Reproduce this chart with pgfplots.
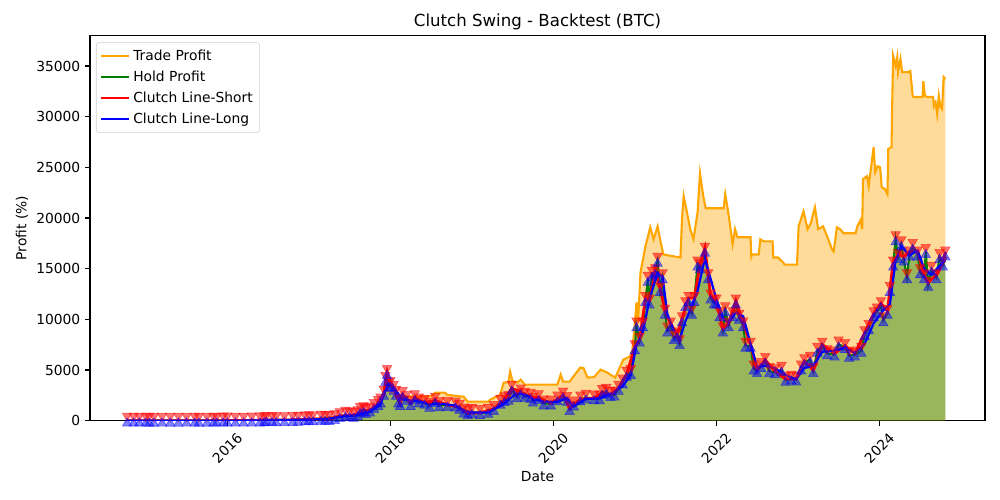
\documentclass[border=0pt]{standalone}
\usepackage{fontspec}
\setmainfont{DejaVu Sans}
\usepackage{pgfplots}
\usepackage{pgfplotstable}
\pgfplotsset{compat=1.18}
\definecolor{mplorange}{RGB}{255,165,0}
\definecolor{mplgreen}{RGB}{0,128,0}
\definecolor{lgray}{RGB}{204,204,204}

\pgfplotstableread{
x y
2014.77 3
2014.85 5
2014.92 4
2015.00 2
2015.04 1
2015.10 1
2015.20 2
2015.30 1
2015.40 1
2015.50 2
2015.60 3
2015.65 1
2015.75 1
2015.83 3
2015.87 5
2015.95 10
2016.00 8
2016.10 4
2016.20 5
2016.30 8
2016.40 13
2016.45 33
2016.48 75
2016.55 65
2016.60 45
2016.70 51
2016.80 75
2016.87 85
2016.95 125
2017.00 150
2017.05 125
2017.15 187
2017.20 175
2017.25 162
2017.32 250
2017.38 450
2017.45 575
2017.50 525
2017.55 475
2017.60 625
2017.63 950
2017.67 1025
2017.70 850
2017.75 1000
2017.80 1350
2017.85 1650
2017.88 1900
2017.92 2650
2017.94 4025
2017.96 4700
2017.98 3400
2018.00 3525
2018.04 3150
2018.07 2650
2018.10 1900
2018.12 1650
2018.15 2525
2018.20 2150
2018.25 1650
2018.30 2225
2018.35 1900
2018.42 1775
2018.48 1475
2018.55 1950
2018.60 1525
2018.70 1550
2018.80 1500
2018.85 1275
2018.90 900
2018.95 725
2019.00 850
2019.10 762
2019.20 875
2019.27 1150
2019.35 1775
2019.40 2025
2019.45 2150
2019.49 3150
2019.55 2400
2019.60 2775
2019.65 2450
2019.72 2350
2019.75 1975
2019.82 2225
2019.88 1700
2019.97 1700
2020.05 2100
2020.12 2475
2020.17 2050
2020.20 1150
2020.25 1600
2020.33 2100
2020.40 2275
2020.50 2200
2020.57 2200
2020.60 2725
2020.65 2850
2020.70 2525
2020.75 2575
2020.80 3150
2020.85 3775
2020.90 4525
2020.95 4700
2021.00 7150
2021.02 9400
2021.06 7900
2021.10 9400
2021.13 11900
2021.16 13900
2021.18 11650
2021.21 14400
2021.25 14650
2021.28 15775
2021.31 12900
2021.34 14150
2021.37 10650
2021.40 8900
2021.44 9400
2021.48 8150
2021.52 8400
2021.55 7650
2021.58 9900
2021.62 11400
2021.66 11900
2021.70 10650
2021.73 11900
2021.77 15400
2021.80 15150
2021.86 16775
2021.90 14150
2021.93 12150
2021.97 11650
2022.00 11650
2022.04 10400
2022.08 8900
2022.11 10900
2022.15 9400
2022.20 10400
2022.24 11650
2022.28 10150
2022.33 9400
2022.36 7400
2022.42 7400
2022.46 5150
2022.50 4900
2022.55 5400
2022.60 5900
2022.65 4900
2022.72 4775
2022.80 5025
2022.85 4025
2022.92 4150
2022.98 4050
2023.04 5150
2023.08 5775
2023.15 6025
2023.19 4900
2023.24 6900
2023.30 7400
2023.36 6650
2023.45 6525
2023.50 7525
2023.58 7275
2023.63 6400
2023.70 6525
2023.78 6900
2023.82 8525
2023.87 9150
2023.93 10400
2023.97 10775
2024.02 11400
2024.05 9900
2024.10 10650
2024.13 12900
2024.17 15400
2024.20 17900
2024.23 16150
2024.27 17400
2024.30 15900
2024.34 14150
2024.37 16400
2024.41 17150
2024.47 16400
2024.50 14650
2024.55 14150
2024.57 16650
2024.60 13400
2024.64 14900
2024.70 14150
2024.74 16150
2024.78 15400
2024.81 16400
}\holdtable

\pgfplotstableread{
x y
2014.77 0
2015.00 1
2015.30 1
2015.87 2
2016.48 60
2017.00 140
2017.38 420
2017.60 580
2017.75 950
2017.88 1800
2017.92 2500
2017.94 3600
2017.96 4050
2017.98 2870
2018.00 2800
2018.10 2500
2018.20 2400
2018.37 2370
2018.50 2400
2018.55 2770
2018.67 2770
2018.70 2550
2018.90 2370
2018.95 1880
2019.20 1880
2019.23 2100
2019.35 2570
2019.39 3760
2019.45 3800
2019.47 4850
2019.50 3900
2019.56 3760
2019.60 4050
2019.65 3560
2020.05 3560
2020.09 4550
2020.12 3860
2020.20 3860
2020.33 5240
2020.37 5200
2020.42 4250
2020.50 4300
2020.58 5040
2020.65 4800
2020.76 4250
2020.86 6030
2020.94 6330
2020.97 7000
2021.00 9500
2021.02 11670
2021.04 9800
2021.07 14630
2021.13 17200
2021.19 19080
2021.23 17900
2021.28 19180
2021.31 17900
2021.35 16400
2021.56 16100
2021.58 20070
2021.60 22150
2021.64 20560
2021.68 18900
2021.72 17900
2021.77 20560
2021.80 24400
2021.84 22150
2021.87 20960
2022.09 20960
2022.11 22350
2022.15 20370
2022.20 17400
2022.23 18900
2022.26 18100
2022.42 18100
2022.43 16200
2022.44 16400
2022.52 16400
2022.54 17900
2022.58 17700
2022.69 17700
2022.70 16100
2022.76 16100
2022.82 15600
2022.84 15400
2022.99 15400
2023.01 19180
2023.07 20660
2023.12 18900
2023.16 19500
2023.21 21060
2023.25 18900
2023.31 19180
2023.36 18200
2023.42 16900
2023.44 16700
2023.48 19080
2023.52 18900
2023.56 18500
2023.71 18500
2023.73 19180
2023.77 19800
2023.79 18900
2023.80 23830
2023.85 24130
2023.87 23140
2023.93 27000
2023.95 24520
2023.98 25110
2024.01 25010
2024.03 23040
2024.07 22840
2024.10 22350
2024.11 26800
2024.15 27000
2024.16 32040
2024.17 36000
2024.20 35000
2024.22 35890
2024.23 34400
2024.26 35700
2024.28 34400
2024.36 34400
2024.38 34500
2024.41 32040
2024.42 31940
2024.53 31940
2024.54 33500
2024.56 32040
2024.59 31940
2024.66 31940
2024.67 31050
2024.69 31400
2024.71 30250
2024.73 32040
2024.75 30950
2024.77 30750
2024.79 33900
2024.81 33700
}\tradetable

\pgfplotstableread{
x y
2014.77 3
2015.00 2
2015.30 1
2015.60 3
2015.87 5
2016.20 10
2016.48 80
2016.80 80
2017.00 155
2017.25 170
2017.38 460
2017.50 540
2017.60 640
2017.67 1040
2017.75 1020
2017.85 1680
2017.92 2700
2017.96 4750
2018.00 3600
2018.07 2700
2018.12 1700
2018.15 2570
2018.25 1700
2018.30 2260
2018.42 1800
2018.55 1980
2018.70 1580
2018.85 1300
2018.95 740
2019.10 780
2019.27 1170
2019.40 2060
2019.49 3200
2019.60 2820
2019.72 2380
2019.82 2260
2019.97 1730
2020.05 2140
2020.12 2510
2020.20 1170
2020.33 2130
2020.50 2230
2020.60 2770
2020.70 2560
2020.80 3200
2020.90 4600
2021.00 7270
2021.06 8020
2021.13 12100
2021.18 11850
2021.25 14900
2021.31 13100
2021.37 10830
2021.44 9560
2021.52 8540
2021.58 10070
2021.66 12100
2021.73 12100
2021.80 15400
2021.86 17050
2021.93 12350
2022.00 11850
2022.08 9050
2022.15 9560
2022.24 11850
2022.33 9560
2022.42 7520
2022.50 4980
2022.60 6000
2022.72 4860
2022.85 4100
2022.98 4120
2023.08 5870
2023.19 4980
2023.30 7520
2023.45 6630
2023.58 7400
2023.70 6630
2023.82 8670
2023.93 10570
2024.02 11590
2024.10 10830
2024.17 15660
2024.23 16420
2024.30 16170
2024.37 16670
2024.47 16670
2024.55 14390
2024.60 13620
2024.70 14390
2024.78 15660
2024.81 16670
}\redtable

\pgfplotstableread{
x y
2014.77 3
2015.10 1
2015.50 1
2015.83 2
2016.10 4
2016.45 20
2016.60 55
2016.95 100
2017.20 165
2017.45 450
2017.60 560
2017.75 900
2017.88 1600
2017.96 3500
2018.00 3900
2018.07 3000
2018.15 2100
2018.25 2000
2018.35 1950
2018.48 1600
2018.60 1700
2018.80 1500
2018.90 1050
2019.00 800
2019.20 820
2019.35 1450
2019.45 2050
2019.55 2700
2019.65 2600
2019.75 2150
2019.88 1900
2020.05 1850
2020.17 2250
2020.25 1400
2020.40 2150
2020.57 2200
2020.70 2650
2020.85 3400
2020.95 4500
2021.02 7500
2021.10 8800
2021.18 12000
2021.28 14600
2021.34 14200
2021.40 10500
2021.48 8900
2021.55 8000
2021.62 9800
2021.70 11300
2021.77 12800
2021.86 16000
2021.93 14000
2022.00 12000
2022.08 10200
2022.15 9600
2022.24 10700
2022.33 10300
2022.42 7600
2022.50 5300
2022.60 5400
2022.72 5200
2022.85 4500
2022.98 4100
2023.08 5200
2023.19 5400
2023.30 6800
2023.45 6900
2023.58 7200
2023.70 6700
2023.82 7600
2023.93 9600
2024.05 10900
2024.13 11500
2024.20 15800
2024.27 17200
2024.37 16300
2024.47 16800
2024.55 15000
2024.64 14400
2024.74 15300
2024.81 15800
}\bluetable

\begin{document}
\begin{tikzpicture}
\begin{axis}[
  name=ax,
  scale only axis,
  width=8.95in, height=3.852in,
  xmin=2014.315, xmax=2025.297,
  ymin=0, ymax=38010,
  axis line style={black, line width=0.8pt},
  tick align=outside,
  major tick length=3.5pt,
  tick style={black, line width=0.8pt},
  xtick={2016,2018,2020,2022,2024},
  xticklabels={2016,2018,2020,2022,2024},
  xticklabel style={yshift=-0.225in, rotate=45, anchor=center},
  ytick={0,5000,10000,15000,20000,25000,30000,35000},
  scaled y ticks=false,
  yticklabel style={/pgf/number format/fixed, /pgf/number format/1000 sep={}},
  /pgf/number format/assume math mode=true,
  xtick pos=bottom, ytick pos=left,
  title={\fontsize{12}{14}\selectfont Clutch Swing - Backtest (BTC)},
  title style={at={(axis description cs:0.5,1)}, anchor=south, yshift=-5.5pt},
  xlabel={Date},
  ylabel={Profit (\%)},
  xlabel style={at={(axis description cs:0.5,-0.146)}, anchor=center},
  ylabel style={at={(axis description cs:-0.076,0.5)}, anchor=center},
  legend style={at={(axis description cs:0.0067,0.982)}, anchor=north west,
    draw=lgray, rounded corners=2pt, fill=white, fill opacity=0.8, text opacity=1,
    row sep=2.2pt, inner xsep=3pt, inner ysep=3pt},
  legend cell align=left,
  legend image code/.code={\draw[#1] (0in,0in) -- (0.28in,0in);},
]
% fills
\addplot[draw=none, fill=mplorange, fill opacity=0.4, forget plot] table {\tradetable} \closedcycle;
\addplot[draw=none, fill=mplgreen, fill opacity=0.4, forget plot] table {\holdtable} \closedcycle;
% lines
\addplot[mplorange, line width=1.5pt, forget plot] table {\tradetable};
\addplot[mplgreen, line width=1.5pt, forget plot] table {\holdtable};
\addplot[red, line width=2pt, forget plot] table {\redtable};
\addplot[blue, line width=1.6pt, forget plot] table {\bluetable};
% markers
\addplot[only marks, mark=triangle*, mark size=4pt, forget plot,
  mark options={yshift=3.5pt, rotate=180, fill=red, draw=red, opacity=0.55}] table {\holdtable};
\addplot[only marks, mark=triangle*, mark size=4pt, forget plot,
  mark options={yshift=-2pt, fill=blue, draw=blue, opacity=0.5}] table {\holdtable};
% legend
\addlegendimage{mplorange, line width=1.5pt}
\addlegendentry{Trade Profit}
\addlegendimage{mplgreen, line width=1.5pt}
\addlegendentry{Hold Profit}
\addlegendimage{red, line width=1.5pt}
\addlegendentry{Clutch Line-Short}
\addlegendimage{blue, line width=1.5pt}
\addlegendentry{Clutch Line-Long}
\end{axis}
\pgfresetboundingbox
\path[use as bounding box] (ax.south west) ++(-0.90in,-0.793in) rectangle ++(10in,5in);
\end{tikzpicture}
\end{document}
